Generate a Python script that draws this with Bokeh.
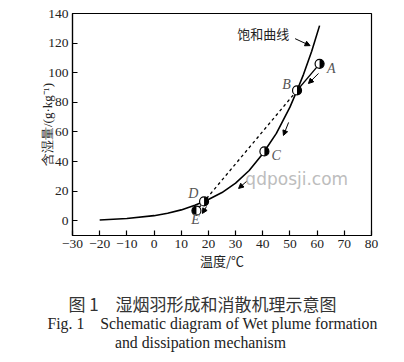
import numpy as np
from bokeh.plotting import figure
from bokeh.layouts import column
from bokeh.models import (FixedTicker, Arrow, NormalHead, Label, ColumnDataSource, Range1d)
from bokeh.core.properties import value
from bokeh.embed import file_html
from bokeh.resources import INLINE

# saturation curve (temperature °C, moisture content g/kg)
sat_t = [-20, -10, 0, 5, 10, 15, 18.4, 20, 25, 30, 35, 40, 45, 50, 52.6, 55, 58, 60.9]
sat_w = [0.5, 1.5, 3.4, 5.0, 7.3, 10.5, 13.0, 14.3, 19.0, 25.4, 33.9, 45.2, 59.0, 76.7, 88.0, 98.9, 114.5, 131.8]

# state points
pt_names = ["A", "B", "C", "D", "E"]
pt_t = [60.9, 52.6, 40.6, 18.4, 15.6]
pt_w = [106.0, 88.0, 46.8, 13.0, 6.8]
pt_black_start = [-np.pi / 2, -np.pi / 2, -np.pi / 2, -np.pi / 2, np.pi / 2]
pt_black_end = [np.pi / 2, np.pi / 2, np.pi / 2, np.pi / 2, 3 * np.pi / 2]
lab_t = [65.2, 48.7, 44.9, 14.4, 15.3]
lab_w = [103.0, 92.0, 44.0, 18.2, 0.8]

# process arrows (start -> end)
arr_t0 = [60.5, 49.5, 34.0, 19.3]
arr_w0 = [99.5, 66.4, 26.5, 9.6]
arr_t1 = [56.8, 47.6, 31.1, 17.8]
arr_w1 = [92.7, 57.6, 21.8, 4.9]

x_ticks = [-30, -20, -10, 0, 10, 20, 30, 40, 50, 60, 70, 80]
x_tick_labels = ["\u221230", "\u221220", "\u221210", "0", "10", "20", "30", "40", "50", "60", "70", "80"]
y_ticks = [0, 20, 40, 60, 80, 100, 120, 140]

# figure caption lines
caption_lines = ["图 1　湿烟羽形成和消散机理示意图",
                 "Fig. 1　Schematic diagram of Wet plume formation",
                 "and dissipation mechanism"]

serif = "Liberation Serif"
cjk = "Noto Sans CJK SC"

p = figure(width=400, height=276, x_range=(-30, 80), y_range=(-10, 140),
           output_backend="svg", toolbar_location=None,
           min_border_left=72, min_border_right=29, min_border_top=13, min_border_bottom=41)
p.background_fill_color = "white"
p.border_fill_color = "white"
p.grid.visible = False
p.outline_line_color = "black"
p.outline_line_width = 1.2

for ax in (p.xaxis[0], p.yaxis[0]):
    ax.major_tick_in = 5
    ax.major_tick_out = 0
    ax.minor_tick_in = 0
    ax.minor_tick_out = 0
    ax.axis_line_color = "black"
    ax.axis_line_width = 1.2
    ax.major_tick_line_width = 1.2
    ax.major_label_text_font = serif
    ax.major_label_text_font_size = "13.5px"
    ax.major_label_text_color = "#222222"
    ax.axis_label_text_font_style = "normal"
    ax.axis_label_text_color = "#222222"

p.xaxis.ticker = FixedTicker(ticks=x_ticks)
p.xaxis.major_label_overrides = {t: s for t, s in zip(x_ticks, x_tick_labels)}
p.xaxis.major_label_standoff = 4
p.xaxis.axis_label = "温度/℃"
p.xaxis.axis_label_text_font = cjk
p.xaxis.axis_label_text_font_size = "13px"
p.xaxis.axis_label_standoff = 0

p.yaxis.ticker = FixedTicker(ticks=y_ticks)
p.yaxis.major_label_standoff = 4
p.yaxis.axis_label = "含湿量/(g·kg⁻¹)"
p.yaxis.axis_label_text_font = serif
p.yaxis.axis_label_text_font_size = "13px"
p.yaxis.axis_label_standoff = -10

# saturation curve
p.line(sat_t, sat_w, line_color="black", line_width=1.6)

# mixing line B -> E (dashed) and A -> B (solid)
p.line([pt_t[1], pt_t[4]], [pt_w[1], pt_w[4]], line_color="black", line_width=1.3, line_dash="3 3")
p.line([pt_t[0], pt_t[1]], [pt_w[0], pt_w[1]], line_color="black", line_width=1.3)

# watermark
p.text(x=[52.5], y=[28.5], text=["qdposji.com"], text_font=value("DejaVu Sans"),
       text_font_size="17px", text_color="#bdbdbd", text_align="center", text_baseline="middle")

# half-filled markers
src = ColumnDataSource(dict(x=pt_t, y=pt_w, s=pt_black_start, e=pt_black_end))
p.scatter("x", "y", source=src, size=9, fill_color="white", line_color=None)
p.wedge("x", "y", source=src, radius=4.5, radius_units="screen", start_angle="s", end_angle="e",
        fill_color="black", line_color=None)
p.scatter("x", "y", source=src, size=9, fill_color=None, line_color="black", line_width=1.2)

# point labels
p.text(x=lab_t, y=lab_w, text=pt_names, text_font=value(serif), text_font_style="italic",
       text_font_size="14px", text_color="#555555", text_align="center", text_baseline="middle")

# process arrows
for t0, w0, t1, w1 in zip(arr_t0, arr_w0, arr_t1, arr_w1):
    p.add_layout(Arrow(x_start=t0, y_start=w0, x_end=t1, y_end=w1, line_width=1, line_color="black",
                       end=NormalHead(size=5, fill_color="black", line_color="black")))

# saturation curve annotation
p.add_layout(Label(x=40.2, y=126.4, text="饱和曲线", text_font=cjk, text_font_size="13px",
                   text_color="#222222", text_align="center", text_baseline="middle"))
p.add_layout(Arrow(x_start=51.9, y_start=123.0, x_end=57.4, y_end=118.3, line_width=1, line_color="black",
                   end=NormalHead(size=5, fill_color="black", line_color="black")))

# caption panel (coordinates in pixels of this panel)
c = figure(width=400, height=82, x_range=Range1d(0, 400), y_range=Range1d(82, 0),
           x_axis_location=None, y_axis_location=None,
           output_backend="svg", toolbar_location=None,
           min_border_left=0, min_border_right=0, min_border_top=0, min_border_bottom=0)
c.grid.visible = False
c.outline_line_color = None
c.background_fill_color = "white"
c.border_fill_color = "white"
for fig in (p, c):
    if "frame_align" in fig.properties():
        fig.frame_align = False
c.text(x=[202], y=[27], text=[caption_lines[0]], text_font=value(cjk), text_font_size="17px",
       text_color="#333333", text_align="center", text_baseline="middle")
c.text(x=[212], y=[47], text=[caption_lines[1]], text_font=value(serif), text_font_size="15.8px",
       text_color="#222222", text_align="center", text_baseline="middle")
c.text(x=[200], y=[66], text=[caption_lines[2]], text_font=value(serif), text_font_size="15.8px",
       text_color="#222222", text_align="center", text_baseline="middle")

layout = column(p, c, spacing=0)
open("out.html", "w").write(file_html(layout, INLINE))
